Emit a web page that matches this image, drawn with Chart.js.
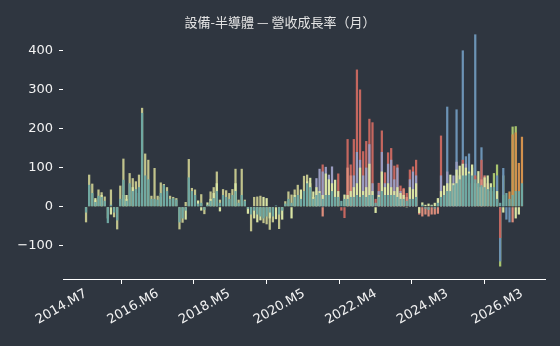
<!DOCTYPE html>
<html><head><meta charset="utf-8">
<script src="https://cdn.jsdelivr.net/npm/chart.js@4.4.0/dist/chart.umd.min.js"></script>
<style>
html,body{margin:0;padding:0;background:#2f3640;}
#wrap{position:relative;width:560px;height:346px;overflow:hidden;}
#title{position:absolute;left:0;top:14px;width:560px;text-align:center;color:#e4e4e4;font:13px/16px "Noto Sans CJK TC","DejaVu Sans",sans-serif;}
canvas{position:absolute;left:0;top:0;}
</style></head><body>
<div id="wrap"><canvas id="c" width="560" height="346"></canvas><div id="title">設備-半導體 — 營收成長率（月）</div></div>
<script>
const _ = null;
// month index 0 = 2014.M7 ... 140 = 2026.M3
const tickIndex = [0, 23, 46, 70, 93, 116, 140];
const tickLabels = ['2014.M7', '2016.M6', '2018.M5', '2020.M5', '2022.M4', '2024.M3', '2026.M3'];
const yTicks = [-100, 0, 100, 200, 300, 400];

const teal = [
-15,56,35,12,28,25,15,-42,5,-15,
-35,20,69,15,60,40,45,50,240,80,
70,20,20,18,35,55,40,20,22,18,
-40,-30,-10,75,40,30,8,10,-8,5,
15,22,40,10,30,25,20,30,40,10,
30,15,-5,-20,-10,-20,-25,-30,-25,-15,
-25,3,-20,-10,8,20,10,25,30,20,
40,60,50,20,30,35,20,30,30,40,
25,25,15,20,20,25,25,30,25,30,
25,30,30,10,25,40,30,30,30,30,
25,20,20,15,20,20,25,0,5,-5,
-8,3,-5,10,25,30,40,40,55,60,
70,80,80,85,80,70,60,55,50,45,
50,50,20,10,30,35,20,30,40,40,
60];
const khaki = [
-40,82,59,18,44,37,26,-30,44,-27,
-58,54,123,20,86,73,65,82,253,136,
120,28,99,28,62,58,50,28,25,22,
-58,-41,12,122,48,44,_,32,-19,_,
39,50,90,18,45,42,35,45,97,18,
97,18,_,-63,25,26,28,-42,-45,-59,
-40,_,-57,_,14,39,31,44,56,30,
79,82,60,25,40,_,_,_,_,_,
_,_,_,_,_,_,_,_,_,_,
_,_,_,_,_,_,_,_,_,_,
_,_,_,_,_,_,_,_,_,_,
_,_,_,_,_,_,_,_,_,_,
_,_,_,_,_,_,_,_,_,_,
_,_,_,_,_,_,_,_,_,_,
_];
const lightYellow = [
_,_,_,22,_,30,_,_,-20,_,
_,_,30,30,_,50,_,35,_,_,
_,_,_,_,25,_,_,_,_,_,
_,_,-33,_,_,_,16,-10,_,11,
20,35,60,-12,_,_,_,_,60,_,
_,_,-18,_,-30,-40,-35,25,22,-30,
_,-32,_,-33,_,_,-30,30,_,44,
_,65,74,39,50,40,30,85,70,60,
69,40,_,31,30,40,50,60,100,40,
50,110,40,-16,30,90,50,60,50,40,
50,35,30,-2,50,45,60,-16,11,5,
8,5,10,22,40,54,60,82,60,95,
105,110,100,90,108,60,91,50,75,80,
60,40,40,_,-15,_,_,_,-30,-20,
_];
const salmon = [
_,_,_,_,_,_,_,_,_,_,
_,_,_,_,_,_,_,_,_,_,
_,_,_,_,_,_,_,_,_,_,
_,_,_,_,_,_,_,_,_,_,
_,_,_,_,_,_,_,_,_,_,
_,_,_,_,_,_,_,_,_,_,
_,_,_,_,_,_,_,_,_,_,
_,_,_,_,_,_,-25,_,_,_,
_,_,_,_,100,80,_,_,_,_,
_,_,_,_,_,_,_,_,_,_,
_,_,45,25,_,_,_,-20,-25,-20,
-25,-20,-20,-18,_,_,_,_,50,_,
_,_,_,_,_,_,50,70,80,60,
40,_,_,_,_,_,_,-40,_,_,
_];
const lavender = [
_,_,_,_,_,_,_,_,_,_,
_,_,_,_,_,_,_,_,_,_,
_,_,_,_,_,_,_,_,_,_,
_,_,_,_,_,_,_,_,_,_,
_,_,_,_,_,_,_,_,_,_,
_,_,_,_,_,_,_,_,_,_,
_,_,_,_,_,_,_,_,_,_,
_,_,_,_,73,97,90,102,82,103,
_,_,_,_,_,_,80,140,120,80,
100,160,60,_,40,140,60,110,120,70,
100,40,_,_,70,90,80,_,_,_,
_,_,_,_,80,40,90,60,80,115,
80,_,110,_,_,_,_,_,_,_,
_,_,_,_,_,_,_,_,_,_,
_];
const red = [
_,_,_,_,_,_,_,_,_,_,
_,_,_,_,_,_,_,_,_,_,
_,_,_,_,_,_,_,_,_,_,
_,_,_,_,_,_,_,_,_,_,
_,_,_,_,_,_,_,_,_,_,
_,_,_,_,_,_,_,_,_,_,
_,_,_,_,_,_,_,_,_,_,
_,_,_,_,_,_,108,_,_,_,
_,85,-10,-29,173,108,173,351,300,142,
168,225,216,20,61,195,88,139,150,105,
108,54,48,35,95,103,120,_,_,_,
_,_,_,_,182,_,_,_,_,_,
_,120,_,60,_,80,_,120,_,_,
_,_,_,-80,_,_,_,_,_,_,
_];
const orange = [
_,_,_,_,_,_,_,_,_,_,
_,_,_,_,_,_,_,_,_,_,
_,_,_,_,_,_,_,_,_,_,
_,_,_,_,_,_,_,_,_,_,
_,_,_,_,_,_,_,_,_,_,
_,_,_,_,_,_,_,_,_,_,
_,_,_,_,_,_,_,_,_,_,
_,_,_,_,_,_,_,_,_,_,
_,_,_,_,_,_,_,_,_,_,
_,_,_,_,_,_,_,_,_,_,
_,_,_,_,_,_,_,_,_,_,
_,_,_,_,_,_,_,_,_,_,
_,_,_,_,_,_,_,_,_,_,
_,_,_,_,_,_,39,185,190,112,
179];
const steelBlue = [
_,_,_,_,_,_,_,_,_,_,
_,_,_,_,_,_,_,_,_,_,
_,_,_,_,_,_,_,_,_,_,
_,_,_,_,_,_,_,_,_,_,
_,_,_,_,_,_,_,_,_,_,
_,_,_,_,_,_,_,_,_,_,
_,_,_,_,_,_,_,_,_,_,
_,_,_,_,_,_,_,_,_,_,
_,_,_,_,_,_,_,_,_,_,
_,_,_,_,_,_,_,_,_,_,
_,_,_,_,_,_,_,_,_,_,
_,_,_,_,_,_,256,_,_,249,
_,400,129,136,100,441,_,152,_,_,
_,_,80,-140,99,-33,-40,_,_,_,
_];
const green = [
_,_,_,_,_,_,_,_,_,_,
_,_,_,_,_,_,_,_,_,_,
_,_,_,_,_,_,_,_,_,_,
_,_,_,_,_,_,_,_,_,_,
_,_,_,_,_,_,_,_,_,_,
_,_,_,_,_,_,_,_,_,_,
_,_,_,_,_,_,_,_,_,_,
_,_,_,_,_,_,_,_,_,_,
_,_,_,_,_,_,_,_,_,_,
_,_,_,_,_,_,_,_,_,_,
_,_,_,_,_,_,_,_,_,_,
_,_,_,_,_,_,_,_,_,_,
_,_,_,_,_,_,_,_,_,_,
_,86,108,-153,80,_,_,205,206,_,
_];

function pts(arr){ return arr.map((v,i)=>({x:i, y:v})); }
function ds(arr, color){
  return {data: pts(arr), backgroundColor: color, borderWidth: 0,
          barPercentage: 0.72, categoryPercentage: 1.0, grouped: false};
}
// index 0 is drawn on top
const datasets = [
  ds(teal, '#6fa8a2'),
  ds(lightYellow, '#d9e4a4'),
  ds(salmon, '#dc8d7b'),
  ds(lavender, '#9a9dc1'),
  ds(khaki, '#c1c38c'),
  ds(orange, '#d3914d'),
  ds(red, '#c5675f'),
  ds(steelBlue, '#6c93b5'),
  ds(green, '#a8c46e'),
];

const tickColor = '#f2f2f2';
const font = {family: '"DejaVu Sans", sans-serif', size: 13};

new Chart(document.getElementById('c'), {
  type: 'bar',
  data: {datasets},
  options: {
    responsive: false, animation: false, devicePixelRatio: 1,
    layout: {padding: {left: 0, right: 15, top: 25, bottom: 0}},
    plugins: {legend: {display: false}, title: {display: false}, tooltip: {enabled: false}},
    scales: {
      x: {
        type: 'linear', min: -7.4, max: 147.4, offset: false,
        afterBuildTicks: s => { s.ticks = tickIndex.map(v => ({value: v})); },
        afterFit: s => { s.height = 67; },
        ticks: {
          autoSkip: false, maxRotation: 30, minRotation: 30, color: tickColor, font, padding: 2,
          callback: v => { const k = tickIndex.indexOf(v); return k >= 0 ? tickLabels[k] : ''; }
        },
        grid: {display: true, drawOnChartArea: false, drawTicks: true, tickLength: 5, color: '#ffffff'},
        border: {display: true, color: '#ffffff', width: 1}
      },
      y: {
        min: -185, max: 465,
        afterBuildTicks: s => { s.ticks = yTicks.map(v => ({value: v})); },
        afterFit: s => { s.width = 63; },
        ticks: {
          color: tickColor, font, padding: 6,
          callback: v => v < 0 ? '\u2212' + Math.abs(v) : String(v)
        },
        grid: {display: true, drawOnChartArea: false, drawTicks: true, tickLength: 4, color: '#ffffff'},
        border: {display: false}
      }
    }
  }
});
</script>
</body></html>
